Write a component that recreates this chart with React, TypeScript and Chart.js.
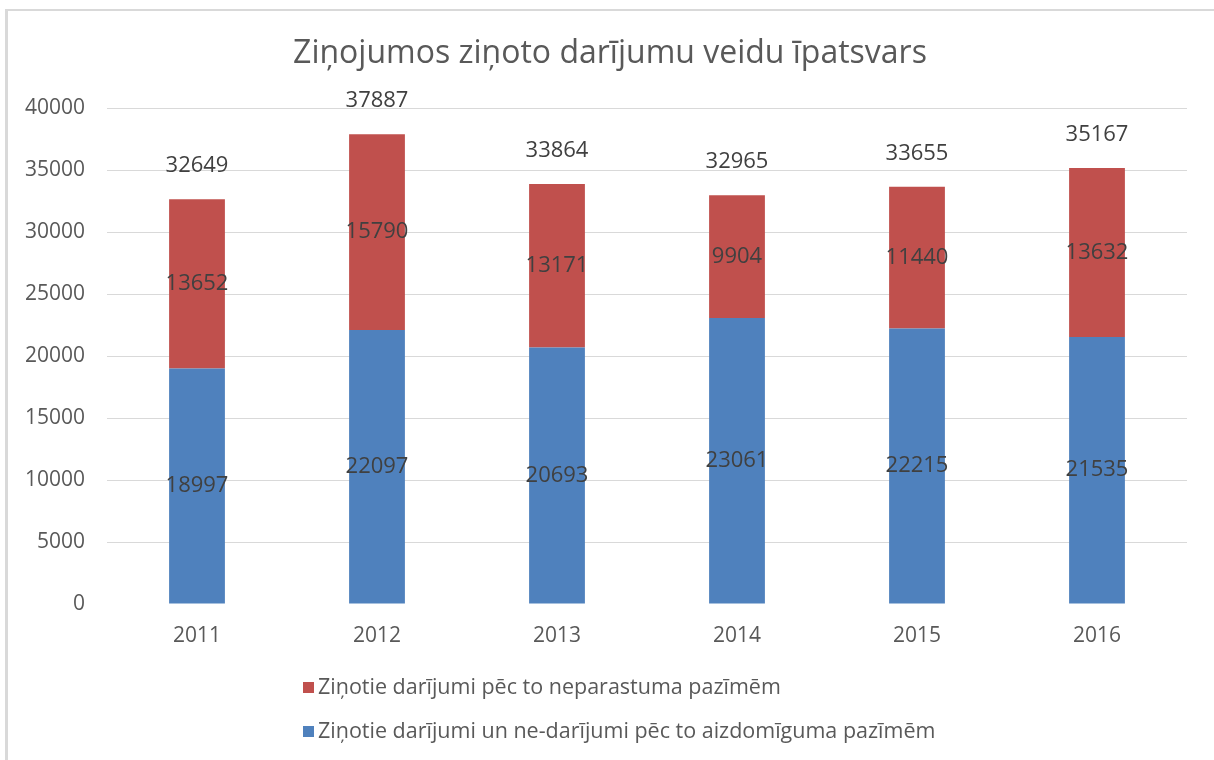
import React, { useEffect, useRef } from "react";
import { Chart, registerables } from "chart.js";

Chart.register(...registerables);

const years = ["2011", "2012", "2013", "2014", "2015", "2016"];
const suspiciousValues = [18997, 22097, 20693, 23061, 22215, 21535];
const unusualValues = [13652, 15790, 13171, 9904, 11440, 13632];
const totalValues = [32649, 37887, 33864, 32965, 33655, 35167];
const titleText = "Ziņojumos ziņoto darījumu veidu īpatsvars";
const unusualLabel = "Ziņotie darījumi pēc to neparastuma pazīmēm";
const suspiciousLabel = "Ziņotie darījumi un ne-darījumi pēc to aizdomīguma pazīmēm";

const FONT = "'Open Sans', 'DejaVu Sans', sans-serif";
const RED = "#C0504D";
const BLUE = "#4F81BD";

const labelsPlugin = {
  id: "customLabels",
  afterDatasetsDraw(chart: any) {
    const { ctx } = chart;
    ctx.save();
    ctx.font = `22px ${FONT}`;
    ctx.fillStyle = "#404040";
    ctx.textAlign = "center";
    ctx.textBaseline = "middle";
    chart.data.datasets.forEach((ds: any, di: number) => {
      const meta = chart.getDatasetMeta(di);
      meta.data.forEach((bar: any, i: number) => {
        const mid = (bar.y + bar.base) / 2;
        ctx.fillText(String(ds.data[i]), bar.x, mid);
      });
    });
    const yScale = chart.scales.y;
    const meta0 = chart.getDatasetMeta(0);
    totalValues.forEach((t, i) => {
      const x = meta0.data[i].x;
      const y = yScale.getPixelForValue(t) - 33;
      ctx.fillText(String(t), x, y);
    });
    ctx.restore();
  },
};

const titleLegendPlugin = {
  id: "titleLegend",
  afterDraw(chart: any) {
    const { ctx } = chart;
    ctx.save();
    ctx.fillStyle = "#595959";
    ctx.textBaseline = "middle";
    ctx.textAlign = "center";
    ctx.font = `32px ${FONT}`;
    ctx.fillText(titleText, 610, 54);
    const items = [
      { label: unusualLabel, color: RED, y: 688 },
      { label: suspiciousLabel, color: BLUE, y: 732 },
    ];
    ctx.font = `21.5px ${FONT}`;
    ctx.textAlign = "left";
    items.forEach((it) => {
      ctx.fillStyle = it.color;
      ctx.fillRect(303, it.y - 6, 11, 11);
      ctx.fillStyle = "#595959";
      ctx.fillText(it.label, 318, it.y);
    });
    ctx.restore();
  },
};

export default function App() {
  const ref = useRef<HTMLCanvasElement | null>(null);
  useEffect(() => {
    if (!ref.current) return;
    const chart = new Chart(ref.current, {
      type: "bar",
      data: {
        labels: years,
        datasets: [
          {
            label: suspiciousLabel,
            data: suspiciousValues,
            backgroundColor: BLUE,
            barPercentage: 0.31,
            categoryPercentage: 1,
          },
          {
            label: unusualLabel,
            data: unusualValues,
            backgroundColor: RED,
            barPercentage: 0.31,
            categoryPercentage: 1,
          },
        ],
      },
      options: {
        animation: false,
        responsive: false,
        maintainAspectRatio: false,
        layout: { padding: { top: 108, right: 27, bottom: 0, left: 0 } },
        plugins: {
          legend: { display: false },
          title: { display: false },
          tooltip: { enabled: false },
        },
        scales: {
          x: {
            stacked: true,
            grid: { display: false, drawTicks: false },
            border: { display: false },
            ticks: {
              padding: 19,
              color: "#595959",
              font: { family: FONT, size: 21 },
            },
            afterFit: (s: any) => {
              s.height = 156;
            },
          },
          y: {
            stacked: true,
            min: 0,
            max: 40000,
            grid: {
              drawTicks: false,
              color: (c: any) => (c.tick && c.tick.value === 0 ? "rgba(0,0,0,0)" : "#D9D9D9"),
              lineWidth: 1,
            },
            border: { display: false },
            ticks: {
              stepSize: 5000,
              padding: 22,
              color: "#595959",
              font: { family: FONT, size: 21 },
              callback: (v: any) => String(v),
            },
            afterFit: (s: any) => {
              s.width = 107;
            },
          },
        },
      },
      plugins: [labelsPlugin, titleLegendPlugin],
    });
    return () => chart.destroy();
  }, []);

  return (
    <div style={{ position: "fixed", left: 0, top: 0, width: 1214, height: 760, background: "#fff" }}>
      <div
        style={{
          position: "absolute",
          left: 5,
          top: 9,
          width: 1209,
          height: 751,
          borderTop: "2px solid #D9D9D9",
          borderLeft: "3px solid #D9D9D9",
          boxSizing: "border-box",
        }}
      />
      <canvas ref={ref} width={1214} height={760} style={{ position: "absolute", left: 0, top: 0, display: "block" }} />
    </div>
  );
}
